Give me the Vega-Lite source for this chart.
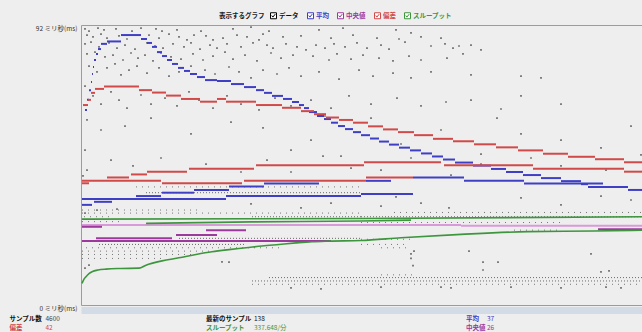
{
  "$schema": "https://vega.github.io/schema/vega-lite/v6.json",
  "background": "#eeeeee",
  "padding": {"left": 8, "top": 11, "right": 0, "bottom": 0},
  "config": {"font": "Noto Sans CJK JP", "view": {"stroke": null}},
  "datasets": {
    "seg": [
      {"s":"平均","a":4,"b":6,"v":64.1},{"s":"平均","a":6,"b":8,"v":67.4},{"s":"平均","a":8,"b":10,"v":70.6},{"s":"平均","a":10,"b":11,"v":73.3},{"s":"平均","a":11,"b":12,"v":75.9},{"s":"平均","a":12,"b":13,"v":78.2},{"s":"平均","a":13,"b":15,"v":80.5},{"s":"平均","a":15,"b":17,"v":82.5},{"s":"平均","a":17,"b":20,"v":84.1},{"s":"平均","a":20,"b":26,"v":85.8},{"s":"平均","a":26,"b":40,"v":86.6},{"s":"平均","a":40,"b":60,"v":88.7},
      {"s":"平均","a":60,"b":66,"v":87.4},{"s":"平均","a":66,"b":71,"v":86.1},{"s":"平均","a":71,"b":76,"v":84.8},{"s":"平均","a":76,"b":81,"v":83.1},{"s":"平均","a":81,"b":86,"v":81.8},{"s":"平均","a":86,"b":91,"v":80.5},{"s":"平均","a":91,"b":97,"v":79.2},{"s":"平均","a":97,"b":103,"v":77.9},{"s":"平均","a":103,"b":109,"v":76.9},{"s":"平均","a":109,"b":116,"v":75.9},{"s":"平均","a":116,"b":124,"v":74.9},{"s":"平均","a":124,"b":136,"v":73.9},{"s":"平均","a":136,"b":150,"v":73.6},{"s":"平均","a":150,"b":163,"v":72.6},{"s":"平均","a":163,"b":175,"v":71.6},{"s":"平均","a":175,"b":183,"v":70.6},{"s":"平均","a":183,"b":191,"v":69.7},{"s":"平均","a":191,"b":202,"v":68.7},{"s":"平均","a":202,"b":211,"v":67.7},{"s":"平均","a":211,"b":218,"v":66.7},{"s":"平均","a":218,"b":223,"v":65.7},{"s":"平均","a":223,"b":228,"v":64.7},{"s":"平均","a":228,"b":236,"v":63.4},{"s":"平均","a":236,"b":243,"v":62.1},{"s":"平均","a":243,"b":250,"v":61.1},{"s":"平均","a":250,"b":257,"v":59.9},{"s":"平均","a":257,"b":264,"v":58.8},{"s":"平均","a":264,"b":272,"v":57.8},{"s":"平均","a":272,"b":280,"v":56.8},{"s":"平均","a":280,"b":289,"v":55.8},{"s":"平均","a":289,"b":298,"v":54.7},{"s":"平均","a":298,"b":308,"v":53.7},{"s":"平均","a":308,"b":318,"v":52.7},{"s":"平均","a":318,"b":329,"v":51.7},{"s":"平均","a":329,"b":340,"v":50.8},{"s":"平均","a":340,"b":351,"v":49.8},{"s":"平均","a":351,"b":362,"v":48.8},{"s":"平均","a":362,"b":374,"v":47.8},{"s":"平均","a":374,"b":392,"v":46.8},{"s":"平均","a":392,"b":410,"v":45.8},{"s":"平均","a":410,"b":425,"v":44.7},{"s":"平均","a":425,"b":442,"v":43.7},{"s":"平均","a":442,"b":460,"v":42.7},{"s":"平均","a":460,"b":480,"v":41.7},{"s":"平均","a":480,"b":500,"v":40.7},{"s":"平均","a":500,"b":507,"v":39.7},{"s":"平均","a":507,"b":547,"v":38.8},{"s":"平均","a":547,"b":562,"v":37.8},
      {"s":"平均","a":1,"b":145,"v":34.8},{"s":"平均","a":1,"b":11,"v":32.9},{"s":"平均","a":13,"b":31,"v":33.9},{"s":"平均","a":55,"b":80,"v":35.8},{"s":"平均","a":81,"b":113,"v":36.9},{"s":"平均","a":113,"b":148,"v":37.8},{"s":"平均","a":148,"b":183,"v":38.9},{"s":"平均","a":183,"b":238,"v":39.9},{"s":"平均","a":145,"b":280,"v":35.8},{"s":"平均","a":280,"b":332,"v":36.5},{"s":"平均","a":332,"b":383,"v":41.9},{"s":"平均","a":285,"b":310,"v":40.8},{"s":"平均","a":383,"b":443,"v":40.8},{"s":"平均","a":443,"b":522,"v":39.9},
      {"s":"偏差","a":2,"b":7,"v":65.7},{"s":"偏差","a":7,"b":10,"v":67.4},{"s":"偏差","a":10,"b":14,"v":69.7},{"s":"偏差","a":14,"b":23,"v":71.0},{"s":"偏差","a":23,"b":58,"v":71.8},{"s":"偏差","a":58,"b":71,"v":70.6},{"s":"偏差","a":71,"b":85,"v":69.8},{"s":"偏差","a":85,"b":100,"v":68.8},{"s":"偏差","a":100,"b":119,"v":67.7},{"s":"偏差","a":119,"b":136,"v":66.8},{"s":"偏差","a":136,"b":145,"v":67.7},{"s":"偏差","a":145,"b":175,"v":66.8},{"s":"偏差","a":175,"b":201,"v":65.7},{"s":"偏差","a":201,"b":220,"v":64.8},{"s":"偏差","a":220,"b":233,"v":63.7},{"s":"偏差","a":233,"b":245,"v":62.7},{"s":"偏差","a":245,"b":258,"v":61.6},{"s":"偏差","a":258,"b":272,"v":60.8},{"s":"偏差","a":272,"b":287,"v":59.9},{"s":"偏差","a":287,"b":302,"v":58.7},{"s":"偏差","a":302,"b":317,"v":57.7},{"s":"偏差","a":317,"b":333,"v":56.8},{"s":"偏差","a":333,"b":352,"v":55.8},{"s":"偏差","a":352,"b":372,"v":54.6},{"s":"偏差","a":372,"b":393,"v":53.8},{"s":"偏差","a":393,"b":415,"v":52.8},{"s":"偏差","a":415,"b":437,"v":51.8},{"s":"偏差","a":437,"b":462,"v":50.8},{"s":"偏差","a":462,"b":487,"v":49.7},{"s":"偏差","a":487,"b":514,"v":48.7},{"s":"偏差","a":514,"b":543,"v":47.9},{"s":"偏差","a":543,"b":562,"v":46.9},
      {"s":"偏差","a":1,"b":80,"v":40.8},{"s":"偏差","a":1,"b":8,"v":40.0},{"s":"偏差","a":26,"b":48,"v":41.9},{"s":"偏差","a":50,"b":66,"v":42.9},{"s":"偏差","a":66,"b":106,"v":43.8},{"s":"偏差","a":108,"b":173,"v":44.8},{"s":"偏差","a":175,"b":283,"v":45.9},{"s":"偏差","a":283,"b":360,"v":46.9},{"s":"偏差","a":363,"b":452,"v":45.9},{"s":"偏差","a":452,"b":543,"v":44.8},{"s":"偏差","a":543,"b":562,"v":43.8},{"s":"偏差","a":81,"b":161,"v":40.0},{"s":"偏差","a":163,"b":285,"v":40.8},{"s":"偏差","a":285,"b":332,"v":41.9},
      {"s":"中央値","a":1,"b":21,"v":25.7},{"s":"中央値","a":125,"b":165,"v":24.6},{"s":"中央値","a":95,"b":136,"v":23.0},{"s":"中央値","a":15,"b":91,"v":21.9},{"s":"中央値","a":1,"b":250,"v":21.0},{"s":"中央値","a":517,"b":562,"v":24.9}
    ],
    "pink": [{"a":1,"b":380,"v":26.3},{"a":380,"b":562,"v":26.0}],
    "tp": [
      {"id":1,"a":1,"v":28.2},{"id":1,"a":280,"v":28.4},{"id":1,"a":562,"v":29.0},
      {"id":2,"a":65,"v":26.8},{"id":2,"a":170,"v":27.3},{"id":2,"a":280,"v":27.6},{"id":2,"a":330,"v":27.9},
      {"id":3,"a":1,"v":7.1},{"id":3,"a":2.5,"v":8.2},{"id":3,"a":5,"v":9.3},{"id":3,"a":8,"v":10.3},{"id":3,"a":11,"v":10.9},{"id":3,"a":17,"v":11.5},{"id":3,"a":25,"v":11.8},{"id":3,"a":40,"v":12.0},{"id":3,"a":58,"v":12.1},{"id":3,"a":65,"v":13.1},{"id":3,"a":81,"v":14.5},{"id":3,"a":98,"v":15.5},{"id":3,"a":115,"v":16.6},{"id":3,"a":131,"v":17.5},{"id":3,"a":148,"v":18.2},{"id":3,"a":165,"v":18.8},{"id":3,"a":181,"v":19.4},{"id":3,"a":198,"v":19.9},{"id":3,"a":215,"v":20.4},{"id":3,"a":231,"v":20.8},{"id":3,"a":248,"v":21.0},{"id":3,"a":280,"v":21.2},{"id":3,"a":320,"v":22.1},{"id":3,"a":380,"v":23.2},{"id":3,"a":447,"v":24.1},{"id":3,"a":513,"v":24.3},{"id":3,"a":562,"v":24.6}
    ],
    "dense": [
      {"a":65,"b":280,"v":36.9},{"a":280,"b":562,"v":29.0},{"a":171,"b":280,"v":29.0},{"a":98,"b":280,"v":21.9},{"a":18,"b":165,"v":19.9},{"a":188,"b":562,"v":9.0},{"a":171,"b":562,"v":7.9}
    ],
    "sparse": [
      {"a":55,"b":280,"v":38.8},{"a":3,"b":31,"v":29.0},{"a":1,"b":38,"v":27.4},{"a":280,"b":480,"v":27.1},{"a":5,"b":198,"v":18.8},{"a":1,"b":131,"v":17.7},{"a":1,"b":115,"v":16.6},{"a":1,"b":85,"v":15.3},{"a":171,"b":562,"v":6.8},{"a":280,"b":330,"v":21.6},{"a":280,"b":327,"v":19.9},{"a":300,"b":333,"v":9.9},{"a":313,"b":562,"v":30.4},{"a":1,"b":280,"v":30.2},{"a":433,"b":480,"v":24.6},{"a":300,"b":327,"v":18.8},{"a":1,"b":120,"v":31.2}
    ],
    "pts": [
      {"a":4,"v":90.7},{"a":8,"v":90.0},{"a":17,"v":91.0},{"a":23,"v":90.4},{"a":35,"v":90.7},{"a":51,"v":90.0},{"a":60,"v":91.0},{"a":75,"v":90.7},{"a":81,"v":90.0},{"a":96,"v":90.4},{"a":120,"v":90.0},{"a":152,"v":90.7},{"a":170,"v":91.3},{"a":188,"v":90.0},{"a":238,"v":90.4},{"a":262,"v":91.0},{"a":315,"v":90.4},{"a":330,"v":89.4},
      {"a":6,"v":88.7},{"a":12,"v":88.1},{"a":20,"v":89.0},{"a":26,"v":87.7},{"a":38,"v":88.4},{"a":46,"v":87.4},{"a":68,"v":88.7},{"a":78,"v":87.7},{"a":88,"v":89.0},{"a":98,"v":88.1},{"a":106,"v":87.1},{"a":113,"v":88.7},{"a":125,"v":88.4},{"a":132,"v":87.1},{"a":142,"v":87.7},{"a":156,"v":88.7},{"a":166,"v":88.1},{"a":178,"v":87.1},{"a":182,"v":89.0},{"a":202,"v":88.1},{"a":220,"v":88.4},{"a":250,"v":87.7},{"a":272,"v":88.7},{"a":296,"v":87.7},{"a":318,"v":87.4},{"a":324,"v":86.4},{"a":340,"v":88.1},{"a":360,"v":87.7},
      {"a":4,"v":85.8},{"a":10,"v":86.4},{"a":18,"v":84.8},{"a":28,"v":86.1},{"a":36,"v":84.4},{"a":44,"v":85.4},{"a":54,"v":84.1},{"a":66,"v":86.1},{"a":74,"v":85.1},{"a":82,"v":84.4},{"a":92,"v":85.8},{"a":103,"v":84.8},{"a":110,"v":86.1},{"a":119,"v":84.1},{"a":129,"v":85.4},{"a":136,"v":84.4},{"a":146,"v":85.8},{"a":160,"v":84.8},{"a":172,"v":86.1},{"a":186,"v":85.4},{"a":192,"v":84.4},{"a":205,"v":85.8},{"a":216,"v":84.8},{"a":225,"v":83.8},{"a":235,"v":85.4},{"a":244,"v":84.4},{"a":253,"v":85.8},{"a":264,"v":84.8},{"a":276,"v":86.1},{"a":286,"v":84.4},{"a":300,"v":85.4},{"a":308,"v":84.1},{"a":350,"v":85.1},{"a":364,"v":85.8},{"a":372,"v":84.4},{"a":378,"v":85.1},{"a":390,"v":85.4},{"a":400,"v":83.8},
      {"a":6,"v":82.5},{"a":14,"v":83.1},{"a":24,"v":81.5},{"a":32,"v":82.1},{"a":42,"v":80.5},{"a":50,"v":82.8},{"a":57,"v":81.1},{"a":64,"v":82.1},{"a":72,"v":80.2},{"a":80,"v":82.8},{"a":90,"v":81.5},{"a":100,"v":80.8},{"a":112,"v":82.5},{"a":122,"v":80.5},{"a":132,"v":81.8},{"a":144,"v":83.1},{"a":152,"v":80.8},{"a":164,"v":82.1},{"a":176,"v":80.2},{"a":190,"v":82.8},{"a":200,"v":81.1},{"a":212,"v":82.1},{"a":232,"v":81.8},{"a":248,"v":80.5},{"a":256,"v":82.5},{"a":270,"v":80.8},{"a":282,"v":82.1},{"a":298,"v":81.1},{"a":312,"v":80.2},{"a":328,"v":81.8},{"a":340,"v":80.5},{"a":366,"v":81.1},{"a":382,"v":82.5},
      {"a":8,"v":78.5},{"a":16,"v":76.6},{"a":26,"v":77.9},{"a":34,"v":79.2},{"a":40,"v":75.6},{"a":48,"v":77.2},{"a":56,"v":78.5},{"a":66,"v":76.2},{"a":78,"v":77.9},{"a":88,"v":75.2},{"a":98,"v":76.6},{"a":110,"v":78.5},{"a":124,"v":77.2},{"a":134,"v":75.9},{"a":148,"v":78.2},{"a":158,"v":76.6},{"a":170,"v":74.6},{"a":182,"v":77.2},{"a":196,"v":75.9},{"a":208,"v":77.9},{"a":220,"v":75.2},{"a":238,"v":76.6},{"a":258,"v":74.2},{"a":278,"v":77.2},{"a":292,"v":75.2},{"a":312,"v":76.2},{"a":330,"v":74.6},{"a":350,"v":76.6},{"a":390,"v":75.6},{"a":440,"v":75.2},{"a":460,"v":74.6},
      {"a":4,"v":71.9},{"a":12,"v":68.7},{"a":20,"v":66.0},{"a":30,"v":70.0},{"a":38,"v":67.3},{"a":46,"v":64.7},{"a":60,"v":69.0},{"a":70,"v":66.0},{"a":84,"v":68.0},{"a":96,"v":65.4},{"a":108,"v":70.0},{"a":118,"v":67.3},{"a":132,"v":64.7},{"a":146,"v":68.7},{"a":160,"v":66.0},{"a":178,"v":64.1},{"a":194,"v":68.0},{"a":210,"v":65.4},{"a":230,"v":67.3},{"a":250,"v":64.7},{"a":268,"v":68.7},{"a":290,"v":66.0},{"a":316,"v":68.0},{"a":340,"v":65.4},{"a":365,"v":66.7},{"a":390,"v":67.3},{"a":420,"v":64.4},{"a":440,"v":68.7},{"a":480,"v":66.0},
      {"a":6,"v":60.8},{"a":20,"v":57.5},{"a":44,"v":58.8},{"a":70,"v":61.4},{"a":110,"v":56.2},{"a":150,"v":60.1},{"a":182,"v":58.2},{"a":210,"v":50.9},{"a":230,"v":54.2},{"a":244,"v":62.1},{"a":260,"v":48.9},{"a":290,"v":61.4},{"a":320,"v":52.9},{"a":360,"v":57.5},{"a":400,"v":49.6},{"a":416,"v":61.4},{"a":440,"v":56.2},{"a":480,"v":54.2},{"a":520,"v":51.6},{"a":550,"v":58.8},
      {"a":4,"v":50.9},{"a":30,"v":47.6},{"a":52,"v":45.7},{"a":80,"v":48.3},{"a":125,"v":46.3},{"a":160,"v":43.7},{"a":186,"v":47.6},{"a":210,"v":43.7},{"a":242,"v":48.9},{"a":270,"v":45.0},{"a":300,"v":44.3},{"a":330,"v":48.3},{"a":370,"v":42.7},{"a":400,"v":46.3},{"a":450,"v":48.3},{"a":480,"v":45.7},{"a":525,"v":44.3},{"a":560,"v":49.3},{"a":6,"v":44.3},{"a":2,"v":42.4},
      {"a":315,"v":35.5},{"a":340,"v":33.5},{"a":368,"v":31.9},{"a":440,"v":35.2},{"a":480,"v":32.9},{"a":520,"v":35.8},{"a":550,"v":34.5},{"a":300,"v":32.5},{"a":170,"v":33.2},{"a":220,"v":31.9},{"a":250,"v":33.5},{"a":16,"v":31.2},{"a":36,"v":31.5},{"a":4,"v":30.2},
      {"a":4,"v":12.1},{"a":8,"v":13.1},{"a":141,"v":14.2},{"a":148,"v":14.1},{"a":417,"v":14.1},{"a":333,"v":17.7},{"a":388,"v":17.7},{"a":330,"v":16.8},{"a":510,"v":16.8},{"a":330,"v":15.3},{"a":332,"v":12.9},{"a":402,"v":14.1},{"a":520,"v":10.9},{"a":528,"v":11.2},{"a":402,"v":11.5},
      {"a":300,"v":5.9},{"a":360,"v":5.9},{"a":370,"v":5.6},{"a":430,"v":5.9},{"a":480,"v":5.6},{"a":525,"v":5.9},{"a":540,"v":5.6},{"a":210,"v":5.6},{"a":240,"v":5.3}
    ],
    "stats": [
      {"col":0,"row":0,"label":"サンプル数","value":"4600","s":"データ"},
      {"col":0,"row":1,"label":"偏差","value":"42","s":"偏差"},
      {"col":1,"row":0,"label":"最新のサンプル","value":"138","s":"データ"},
      {"col":1,"row":1,"label":"スループット","value":"337.648/分","s":"スループット"},
      {"col":2,"row":0,"label":"平均","value":"37","s":"平均"},
      {"col":2,"row":1,"label":"中央値","value":"26","s":"中央値"}
    ]
  },
  "concat": [
    {
      "width": 562,
      "height": 280,
      "view": {"stroke": "#9c9c9c", "strokeWidth": 1},
      "encoding": {
        "x": {"field": "a", "type": "quantitative", "scale": {"domain": [0, 562], "nice": false, "zero": false},
          "axis": {"title": null, "labels": false, "ticks": false, "grid": false, "domain": true, "domainColor": "#d3dbe7", "domainWidth": 7, "offset": 5}},
        "y": {"field": "v", "type": "quantitative", "scale": {"domain": [0, 92], "nice": false},
          "axis": {"values": [0, 92], "labelExpr": "datum.value + ' ミリ秒(ms)'", "ticks": false, "domain": false, "grid": false, "title": null, "labelBaseline": "top", "labelFontSize": 6.5, "labelColor": "#333333", "labelPadding": 4, "minExtent": 72, "maxExtent": 72, "labelFont": "Noto Sans CJK JP"}}
      },
      "layer": [
        {"data": {"name": "dense"}, "mark": {"type": "rule", "strokeDash": [1, 2], "strokeWidth": 1, "color": "#6a6a6a"}, "encoding": {"x2": {"field": "b"}}},
        {"data": {"name": "sparse"}, "mark": {"type": "rule", "strokeDash": [1, 5], "strokeWidth": 1, "color": "#777777"}, "encoding": {"x2": {"field": "b"}}},
        {"data": {"name": "pts"}, "mark": {"type": "square", "size": 3, "color": "#555555", "opacity": 0.85}},
        {"data": {"name": "pink"}, "mark": {"type": "rule", "strokeWidth": 2, "color": "#d99ad9"}, "encoding": {"x2": {"field": "b"}}},
        {"data": {"name": "seg"}, "mark": {"type": "rule", "strokeWidth": 2},
          "encoding": {
            "x2": {"field": "b"},
            "color": {"field": "s", "type": "nominal",
              "scale": {"domain": ["データ", "平均", "中央値", "偏差", "スループット"], "range": ["#000000", "#3f3fc6", "#9c3a9c", "#d14a4a", "#3d963d"]},
              "legend": {
                "orient": "none", "legendX": 138, "legendY": -13, "direction": "horizontal",
                "title": "表示するグラフ", "titleOrient": "left", "titleFontSize": 6.5, "titleFont": "Noto Sans CJK JP", "titleFontWeight": "bold", "titleColor": "#222222", "titlePadding": 5,
                "labelFontSize": 6.5, "labelFont": "Noto Sans CJK JP", "labelFontWeight": "bold", "labelOffset": 2, "columnPadding": 6, "symbolSize": 36, "padding": 0,
                "encode": {
                  "symbols": {"update": {"shape": {"value": "M-1,-1L1,-1L1,1L-1,1Z M-0.6,-0.05L-0.2,0.45L0.6,-0.55"}, "fill": {"value": "#ffffff"}, "stroke": {"value": "#555555"}, "strokeWidth": {"value": 1}, "opacity": {"value": 1}}},
                  "labels": {"update": {"fill": {"signal": "datum.label === '平均' ? '#3f3fc6' : datum.label === '中央値' ? '#9c3a9c' : datum.label === '偏差' ? '#d14a4a' : datum.label === 'スループット' ? '#3d963d' : '#111111'"}}}
                }
              }
            }
          }
        },
        {"data": {"name": "tp"}, "mark": {"type": "line", "strokeWidth": 1.6, "interpolate": "monotone"},
          "encoding": {"detail": {"field": "id", "type": "nominal"}, "color": {"datum": "スループット"}}}
      ]
    },
    {
      "spacing": 0,
      "hconcat": [
        {"width": 125, "height": 18, "data": {"name": "stats"}, "transform": [{"filter": "datum.col == 0"}],
          "encoding": {"x": {"field": "col", "type": "ordinal", "scale": {"type": "band", "paddingInner": 0, "paddingOuter": 0}, "bandPosition": 0, "axis": null}},
          "layer": [
            {"mark": {"type": "text", "text": ""},
              "encoding": {"y": {"field": "label", "type": "ordinal", "sort": {"field": "row", "op": "min"}, "scale": {"type": "point", "padding": 0.5},
                "axis": {"orient": "left", "title": null, "ticks": false, "domain": false, "grid": false, "labelAlign": "left", "labelBaseline": "middle", "labelPadding": 72, "labelFontSize": 6.5, "labelFontWeight": "bold", "labelFont": "Noto Sans CJK JP",
                  "labelColor": {"condition": {"test": "datum.value === '偏差'", "value": "#d14a4a"}, "value": "#111111"}}}}},
            {"mark": {"type": "text", "text": ""},
              "encoding": {"y": {"field": "value", "type": "ordinal", "sort": {"field": "row", "op": "min"}, "scale": {"type": "point", "padding": 0.5},
                "axis": {"orient": "left", "title": null, "ticks": false, "domain": false, "grid": false, "labelAlign": "left", "labelBaseline": "middle", "labelPadding": 36, "labelFontSize": 6.5, "labelFont": "Noto Sans CJK JP",
                  "labelColor": {"condition": {"test": "datum.value === '42'", "value": "#d14a4a"}, "value": "#444444"}}}}}
          ],
          "resolve": {"scale": {"y": "independent"}}},
        {"width": 48, "height": 18, "data": {"name": "stats"}, "transform": [{"filter": "datum.col == 1"}],
          "mark": {"type": "text", "align": "left", "baseline": "middle", "fontSize": 6.5, "fontWeight": "bold"},
          "encoding": {"x": {"field": "col", "type": "ordinal", "scale": {"type": "band", "paddingInner": 0, "paddingOuter": 0}, "bandPosition": 0, "axis": null},
            "y": {"field": "row", "type": "ordinal", "scale": {"type": "point", "padding": 0.5}, "axis": null},
            "text": {"field": "label"},
            "color": {"field": "s", "type": "nominal", "scale": {"domain": ["データ", "平均", "中央値", "偏差", "スループット"], "range": ["#111111", "#3f3fc6", "#9c3a9c", "#d14a4a", "#3d963d"]}, "legend": null}}},
        {"width": 212, "height": 18, "data": {"name": "stats"}, "transform": [{"filter": "datum.col == 1"}],
          "mark": {"type": "text", "align": "left", "baseline": "middle", "fontSize": 6.5},
          "encoding": {"x": {"field": "col", "type": "ordinal", "scale": {"type": "band", "paddingInner": 0, "paddingOuter": 0}, "bandPosition": 0, "axis": null},
            "y": {"field": "row", "type": "ordinal", "scale": {"type": "point", "padding": 0.5}, "axis": null},
            "text": {"field": "value"},
            "color": {"field": "s", "type": "nominal", "scale": {"domain": ["データ", "平均", "中央値", "偏差", "スループット"], "range": ["#444444", "#3f3fc6", "#9c3a9c", "#d14a4a", "#3d963d"]}, "legend": null}}},
        {"width": 21, "height": 18, "data": {"name": "stats"}, "transform": [{"filter": "datum.col == 2"}],
          "mark": {"type": "text", "align": "left", "baseline": "middle", "fontSize": 6.5, "fontWeight": "bold"},
          "encoding": {"x": {"field": "col", "type": "ordinal", "scale": {"type": "band", "paddingInner": 0, "paddingOuter": 0}, "bandPosition": 0, "axis": null},
            "y": {"field": "row", "type": "ordinal", "scale": {"type": "point", "padding": 0.5}, "axis": null},
            "text": {"field": "label"},
            "color": {"field": "s", "type": "nominal", "scale": {"domain": ["データ", "平均", "中央値", "偏差", "スループット"], "range": ["#111111", "#3f3fc6", "#9c3a9c", "#d14a4a", "#3d963d"]}, "legend": null}}},
        {"width": 156, "height": 18, "data": {"name": "stats"}, "transform": [{"filter": "datum.col == 2"}],
          "mark": {"type": "text", "align": "left", "baseline": "middle", "fontSize": 6.5},
          "encoding": {"x": {"field": "col", "type": "ordinal", "scale": {"type": "band", "paddingInner": 0, "paddingOuter": 0}, "bandPosition": 0, "axis": null},
            "y": {"field": "row", "type": "ordinal", "scale": {"type": "point", "padding": 0.5}, "axis": null},
            "text": {"field": "value"},
            "color": {"field": "s", "type": "nominal", "scale": {"domain": ["データ", "平均", "中央値", "偏差", "スループット"], "range": ["#444444", "#3f3fc6", "#9c3a9c", "#d14a4a", "#3d963d"]}, "legend": null}}}
      ],
      "resolve": {"scale": {"x": "independent"}}
    }
  ],
  "columns": 1,
  "spacing": 0,
  "resolve": {"scale": {"color": "independent"}}
}
